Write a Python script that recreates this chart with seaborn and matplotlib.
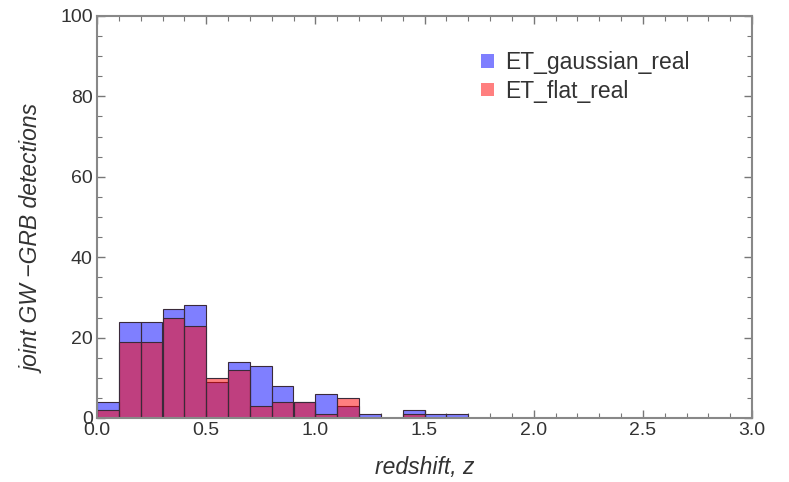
import numpy as np
import pandas as pd
import matplotlib
matplotlib.use("Agg")
import matplotlib.pyplot as plt
import seaborn as sns
from matplotlib.ticker import MultipleLocator
from matplotlib.patches import Patch

sns.set_style("white")
plt.rcParams['font.family'] = ['Liberation Sans', 'DejaVu Sans']

bin_edges = [0.0, 0.1, 0.2, 0.3, 0.4, 0.5, 0.6, 0.7, 0.8, 0.9, 1.0, 1.1, 1.2, 1.3, 1.4, 1.5, 1.6, 1.7]
bin_centers = [0.05, 0.15, 0.25, 0.35, 0.45, 0.55, 0.65, 0.75, 0.85, 0.95, 1.05, 1.15, 1.25, 1.35, 1.45, 1.55, 1.65]
gaussian_counts = [4, 24, 24, 27, 28, 9, 14, 13, 8, 4, 6, 3, 1, 0, 2, 1, 1]
flat_counts = [2, 19, 19, 25, 23, 10, 12, 3, 4, 4, 1, 5, 0, 0, 1, 0, 0]
series_names = ["ET_gaussian_real", "ET_flat_real"]
colors = ["#0000ff", "#ff0000"]

df = pd.concat([
    pd.DataFrame({"z": bin_centers, "n": gaussian_counts, "series": series_names[0]}),
    pd.DataFrame({"z": bin_centers, "n": flat_counts, "series": series_names[1]}),
])

fig = plt.figure(figsize=(7.89, 4.82), dpi=100)
ax = fig.add_axes([97/789, 1 - 418/482, (752-97)/789, (418-16)/482])

for name, col in zip(series_names, colors):
    sub = df[df.series == name]
    sns.histplot(data=sub, x="z", weights="n", bins=bin_edges, ax=ax,
                 color=col, alpha=0.5, edgecolor="#3a2a3a", linewidth=0.8,
                 stat="count", element="bars")

ax.set_xlim(0, 3.0)
ax.set_ylim(0, 100)
ax.xaxis.set_major_locator(MultipleLocator(0.5))
ax.xaxis.set_minor_locator(MultipleLocator(0.1))
ax.yaxis.set_major_locator(MultipleLocator(20))
ax.yaxis.set_minor_locator(MultipleLocator(5))
ax.xaxis.set_major_formatter(matplotlib.ticker.FormatStrFormatter('%.1f'))
ax.tick_params(which='both', direction='in', top=True, right=True, bottom=True, left=True,
               color='#777777', labelsize=14, labelcolor='#333333')
ax.tick_params(which='major', length=6, width=1.0)
ax.tick_params(which='minor', length=3.5, width=0.8)
ax.tick_params(axis='x', pad=3)
ax.tick_params(axis='y', pad=3)
for s in ax.spines.values():
    s.set_color('#888888')
    s.set_linewidth(1.5)
    s.set_visible(True)

ax.set_xlabel("redshift, z", fontstyle='italic', fontsize=16.5, color='#333333', labelpad=12)
ax.set_ylabel("joint GW \u2212GRB detections", fontstyle='italic', fontsize=16.5, color='#333333')
ax.yaxis.set_label_coords(-0.08, 0.445)

handles = [Patch(facecolor=c, alpha=0.5, edgecolor='none') for c in colors]
ax.legend(handles, series_names, loc='upper left', bbox_to_anchor=(0.555, 0.963), frameon=False,
          fontsize=16.5, handlelength=0.55, handleheight=0.55, handletextpad=0.5, labelspacing=0.22,
          labelcolor='#333333')

fig.savefig("out.png", dpi=100)
